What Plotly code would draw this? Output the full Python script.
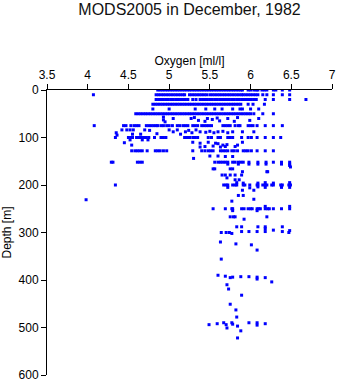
import plotly.graph_objects as go

# ---- Data: oxygen [ml/l] along densely sampled standard depths ----
depth_rows = [0, 10, 20, 30, 40, 50, 75, 100, 128, 152, 200, 250]

ox_0m = [4.86, 4.89, 4.92, 4.95, 4.98, 5.01, 5.04, 5.07, 5.10, 5.13, 5.16, 5.19, 5.22, 5.25,
         5.28, 5.31, 5.34, 5.37, 5.40, 5.43, 5.46, 5.49, 5.52, 5.55, 5.58, 5.61, 5.64, 5.67,
         5.70, 5.73, 5.76, 5.79, 5.82, 5.85, 5.88, 5.90, 5.97, 6.00, 6.04, 6.07, 6.09, 6.14,
         6.17, 6.20, 6.28, 6.31, 6.39, 6.48]
ox_10m = [4.07, 4.84, 4.87, 4.90, 4.93, 4.96, 4.99, 5.02, 5.05, 5.08, 5.11, 5.14, 5.17, 5.19,
          5.25, 5.28, 5.31, 5.34, 5.37, 5.40, 5.43, 5.46, 5.50, 5.53, 5.56, 5.59, 5.62, 5.65,
          5.68, 5.71, 5.74, 5.77, 5.80, 5.83, 5.86, 5.89, 5.91, 5.94, 5.97, 6.00, 6.03, 6.06,
          6.09, 6.15, 6.20, 6.28, 6.39, 6.48]
ox_20m = [4.84, 4.87, 4.90, 4.93, 4.96, 4.99, 5.02, 5.05, 5.08, 5.11, 5.14, 5.17, 5.20, 5.23,
          5.29, 5.33, 5.38, 5.41, 5.44, 5.47, 5.50, 5.53, 5.56, 5.59, 5.62, 5.65, 5.68, 5.71,
          5.74, 5.77, 5.80, 5.83, 5.86, 5.89, 5.92, 5.95, 5.98, 6.01, 6.04, 6.07, 6.18, 6.28,
          6.48, 6.68]
ox_30m = [4.80, 4.83, 4.86, 4.89, 4.92, 4.95, 4.98, 5.01, 5.04, 5.07, 5.10, 5.13, 5.16, 5.19,
          5.22, 5.25, 5.28, 5.31, 5.34, 5.37, 5.40, 5.43, 5.46, 5.49, 5.52, 5.55, 5.58, 5.61,
          5.64, 5.67, 5.70, 5.73, 5.76, 5.79, 5.82, 5.85, 5.88, 5.97, 6.03, 6.17]
ox_40m = [4.80, 5.00, 5.32, 5.45, 5.56, 5.65, 5.78, 5.87, 5.90, 6.00, 6.10]
ox_50m = [4.59, 4.62, 4.65, 4.68, 4.71, 4.74, 4.77, 4.80, 4.83, 4.86, 4.89, 4.92, 4.95, 4.98,
          5.01, 5.04, 5.07, 5.10, 5.13, 5.16, 5.19, 5.22, 5.25, 5.28, 5.31, 5.34, 5.37, 5.40,
          5.43, 5.46, 5.49, 5.52, 5.55, 5.58, 5.61, 5.64, 5.67, 5.70, 5.73, 5.76, 5.79, 5.82,
          5.85, 5.88, 5.91, 5.94, 5.97, 6.00, 6.04, 6.15, 6.28]
ox_75m = [4.08, 4.44, 4.47, 4.53, 4.57, 4.60, 4.63, 4.72, 4.75, 4.78, 4.81, 4.84, 4.86, 4.90,
          4.93, 4.97, 5.00, 5.04, 5.10, 5.13, 5.17, 5.20, 5.23, 5.29, 5.32, 5.35, 5.40, 5.43,
          5.46, 5.49, 5.52, 5.66, 5.69, 5.72, 5.75, 5.81, 5.85, 5.87, 5.97, 6.00, 6.03, 6.08,
          6.18, 6.28, 6.39]
ox_100m = [4.34, 4.50, 4.53, 4.55, 4.60, 4.63, 4.66, 4.69, 4.72, 4.75, 4.82, 4.90, 4.93, 4.96,
           5.19, 5.22, 5.25, 5.29, 5.32, 5.35, 5.48, 5.52, 5.60, 5.63, 5.72, 5.75, 5.78, 5.89,
           5.97, 6.01, 6.08, 6.18, 6.28, 6.37]
ox_128m = [4.54, 4.58, 4.61, 4.64, 4.67, 4.73, 4.83, 4.86, 4.89, 4.93, 4.97, 5.29, 5.40, 5.44,
           5.48, 5.51, 5.54, 5.63, 5.66, 5.69, 5.72, 5.77, 5.80, 5.84, 5.91, 5.94, 5.97, 6.01,
           6.08, 6.18, 6.28]
ox_152m = [4.29, 4.31, 4.61, 4.64, 4.67, 5.56, 5.60, 5.63, 5.66, 5.69, 5.72, 5.78, 5.81, 5.85,
           5.88, 5.91, 5.98, 6.09, 6.19, 6.28, 6.38, 6.48]
ox_200m = [4.34, 5.67, 5.70, 5.72, 5.78, 5.81, 5.83, 5.91, 5.93, 5.99, 6.08, 6.09, 6.15, 6.18,
           6.20, 6.26, 6.28, 6.37, 6.39, 6.47, 6.49]
ox_250m = [5.54, 5.69, 5.77, 5.78, 5.89, 5.92, 5.97, 6.00, 6.02, 6.08, 6.10, 6.12, 6.18, 6.21,
           6.23, 6.28, 6.38, 6.48]

# ---- Data: scattered observations (oxygen, depth) ----
scatter_ox = [4.93, 4.93, 5.05, 5.27, 5.31, 5.47, 5.53, 5.59, 5.72, 5.84, 4.95, 5.36, 5.44,
              5.62, 5.80, 5.99, 6.10,
              4.42, 4.48, 4.52, 4.56, 4.70, 4.76, 5.00, 5.10, 5.24, 5.33, 4.35, 4.36, 4.55,
              4.65, 4.85, 5.14, 5.05, 5.20, 5.28, 5.38, 5.45, 5.50, 5.55, 5.60, 5.66, 5.72,
              5.78, 5.90, 6.04,
              4.52, 4.67, 4.74, 4.45, 4.54, 5.29, 5.38, 5.48, 5.57, 5.60, 5.66, 5.71, 5.84,
              5.90, 5.38, 5.44, 5.54, 5.63, 5.69, 5.81,
              5.50, 5.60, 5.69, 5.78, 5.30,
              5.72, 5.85, 5.98, 6.09, 6.19, 6.48, 6.48, 6.49, 6.38,
              5.54, 5.56, 5.75, 5.78, 5.90, 6.20, 6.21, 5.65, 5.69, 5.75, 5.81, 5.89, 5.71,
              5.86, 5.81,
              5.83, 5.91, 6.09, 6.18, 6.28, 6.48, 6.48, 6.38, 6.18, 5.99, 5.72, 6.09,
              5.90, 6.04, 5.85, 5.91, 6.04, 5.77, 3.98,
              5.78, 6.08, 6.18, 6.48, 5.75, 5.79, 5.81, 6.20, 5.92,
              5.83, 5.89, 6.09, 6.18, 6.39, 5.64, 5.70, 5.74, 5.77, 5.89, 5.98, 6.08, 6.18,
              6.28, 6.39, 6.47, 6.18, 6.48,
              5.63, 5.82, 6.01, 6.08, 5.64,
              5.60, 5.69, 5.75, 5.78, 5.88, 5.98, 6.08, 6.08, 6.18, 6.26,
              5.71, 5.73, 5.89, 5.75, 5.82, 5.83,
              5.49, 5.59, 5.67, 5.70, 5.77, 5.78, 5.98, 6.08, 6.08, 6.18, 5.84, 5.71, 5.88,
              5.84]
scatter_depth = [57, 63, 60, 60, 58, 60, 62, 59, 60, 58, 67, 64, 66,
                 65, 66, 64, 60,
                 84, 84, 84, 84, 84, 85, 84, 84, 85, 84, 90, 95, 93,
                 93, 92, 93, 88, 88, 90, 88, 89, 87, 90, 88, 87, 90,
                 88, 88, 88,
                 105, 105, 105, 111, 116, 110, 112, 110, 112, 113, 116, 115, 116,
                 110, 120, 119, 118, 120, 119, 119,
                 139, 139, 140, 140, 144,
                 156, 156, 156, 156, 156, 156, 159, 162, 156,
                 166, 166, 166, 166, 172, 172, 172, 179, 179, 179, 179, 179, 185,
                 189, 189,
                 195, 196, 196, 195, 196, 195, 205, 205, 205, 206, 205, 204,
                 211, 211, 222, 222, 230, 234, 231,
                 254, 254, 245, 245, 267, 267, 267, 267, 272,
                 288, 288, 288, 288, 288, 300, 300, 300, 302, 298, 298, 298, 298,
                 295, 298, 300, 292, 296,
                 320, 324, 326, 337, 356,
                 390, 392, 395, 394, 393, 393, 394, 398, 395, 404,
                 410, 419, 432, 451, 463, 478,
                 494, 492, 490, 494, 490, 493, 490, 490, 495, 492, 497, 501, 507,
                 522]

# ---- Assemble ----
row_lists = [ox_0m, ox_10m, ox_20m, ox_30m, ox_40m, ox_50m, ox_75m, ox_100m,
             ox_128m, ox_152m, ox_200m, ox_250m]
xs, ys = [], []
for d, vals in zip(depth_rows, row_lists):
    xs.extend(vals)
    ys.extend([d] * len(vals))
xs.extend(scatter_ox)
ys.extend(scatter_depth)

FONT = "Liberation Sans, Arial, Helvetica, sans-serif"

fig = go.Figure(go.Scatter(
    x=xs, y=ys, mode="markers",
    marker=dict(symbol="square", size=3, color="#0000ff", line=dict(width=0)),
    hoverinfo="skip", showlegend=False,
))

fig.update_layout(
    width=338, height=384,
    margin=dict(l=47, r=6, t=90, b=9),
    paper_bgcolor="white", plot_bgcolor="white",
    font=dict(family=FONT, size=12, color="#000000"),
    title=dict(text="MODS2005 in December, 1982", x=0.5, xref="paper", xanchor="center",
               y=1 - 9 / 384, yref="container", yanchor="middle",
               font=dict(family=FONT, size=16, color="#111111")),
    xaxis=dict(side="top", range=[3.5, 7], tickmode="array",
               tickvals=[3.5, 4, 4.5, 5, 5.5, 6, 6.5, 7],
               ticktext=["3.5", "4", "4.5", "5", "5.5", "6", "6.5", "7"],
               ticks="outside", ticklen=5, tickcolor="black", tickwidth=1,
               showline=True, linecolor="black", linewidth=1, mirror=False,
               showgrid=False, zeroline=False, automargin=False,
               title=dict(text="Oxygen [ml/l]", standoff=0, font=dict(size=12))),
    yaxis=dict(range=[600, 0], tickmode="array", tickvals=[0, 100, 200, 300, 400, 500, 600],
               ticks="outside", ticklen=5, tickcolor="black", tickwidth=1,
               showline=True, linecolor="black", linewidth=1, mirror=False,
               showgrid=False, zeroline=False, automargin=False,
               title=dict(text="Depth [m]", standoff=6, font=dict(size=12))),
)

fig.write_html("out.html")
